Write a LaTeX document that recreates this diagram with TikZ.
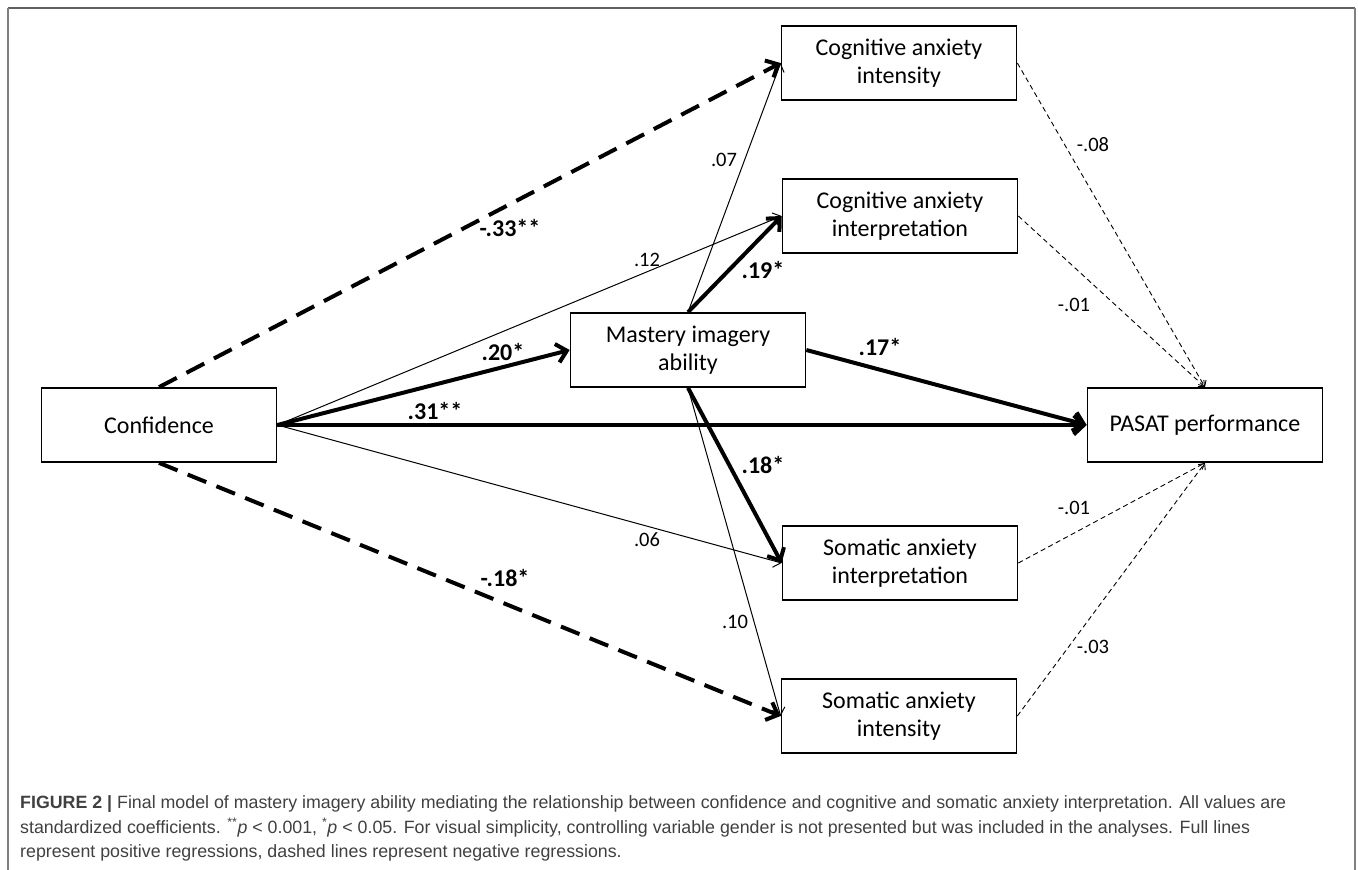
\documentclass[tikz,border=0pt]{standalone}
\usepackage{fontspec}
\setmainfont{Carlito}
\newfontfamily\capfont{Liberation Sans}
\usetikzlibrary{arrows.meta}
\definecolor{capgray}{gray}{0.25}
\begin{document}
\begin{tikzpicture}[x=1pt,y=-1pt,
  box/.style={draw,line width=1.7pt,minimum width=235pt,minimum height=74pt,inner sep=0pt,align=center,font=\fontsize{24}{28}\selectfont},
  posthick/.style={line width=4pt,-{Straight Barb[length=10pt,width=19pt,line width=4pt]}},
  posthin/.style={line width=1pt,-{Straight Barb[length=7pt,width=13pt,line width=1pt]}},
  negthick/.style={line width=4pt,dash pattern=on 20pt off 11pt,-{Straight Barb[length=10pt,width=19pt,line width=4pt]}},
  negthin/.style={line width=0.9pt,dash pattern=on 5pt off 3.5pt,-{Straight Barb[length=5pt,width=9pt,line width=0.9pt]}},
  lab/.style={font=\fontsize{20.5}{22}\selectfont,inner sep=0pt},
  blab/.style={font=\fontsize{24}{26}\selectfont\bfseries,inner sep=0pt},
  frame/.style={line width=1.5pt}]
\useasboundingbox (0,0) rectangle (1358,870);
% frame
\coordinate (ftl) at (8,8);
\coordinate (ftr) at (1355,8);
\coordinate (fbl) at (8,872);
\coordinate (fbr) at (1355,872);
\draw[frame,gray!75!black] (ftl) -- (ftr);
\draw[frame,gray] (ftl) -- (fbl);
\draw[frame,gray] (ftr) -- (fbr);
% nodes
\node[box] (conf) at (159,425) {Confidence};
\node[box] (mast) at (688,350) {Mastery imagery\\ability};
\node[box] (pasat) at (1205,425) {PASAT performance};
\node[box] (cint) at (899,63) {Cognitive anxiety\\intensity};
\node[box] (cinterp) at (900,216) {Cognitive anxiety\\interpretation};
\node[box] (sinterp) at (900,563) {Somatic anxiety\\interpretation};
\node[box] (sint) at (899,716) {Somatic anxiety\\intensity};
% connectors
\draw[negthick] (conf.north) -- (cint.west);
\draw[negthick] (conf.south) -- (sint.west);
\draw[posthick] (conf.east) -- (mast.west);
\draw[posthin] (conf.east) -- (cinterp.west);
\draw[posthick] (conf.east) -- (pasat.west);
\draw[posthin] (conf.east) -- (sinterp.west);
\draw[posthin] (mast.north) -- (cint.west);
\draw[posthick] (mast.north) -- (cinterp.west);
\draw[posthick] (mast.east) -- (pasat.west);
\draw[posthick] (mast.south) -- (sinterp.west);
\draw[posthin] (mast.south) -- (sint.west);
\draw[negthin] (cint.east) -- (pasat.north);
\draw[negthin] (cinterp.east) -- (pasat.north);
\draw[negthin] (sinterp.east) -- (pasat.south);
\draw[negthin] (sint.east) -- (pasat.south);
% labels
\node[blab] (l1) at (510,228) {-.33**};
\node[lab] (l2) at (647,260) {.12};
\node[lab] (l3) at (724,160) {.07};
\node[blab] (l4) at (763,270) {.19*};
\node[blab] (l5) at (503,352) {.20*};
\node[blab] (l6) at (435,411) {.31**};
\node[blab] (l7) at (880,347) {.17*};
\node[blab] (l8) at (763,465) {.18*};
\node[lab] (l9) at (647,540) {.06};
\node[blab] (l10) at (505,578) {-.18*};
\node[lab] (l11) at (735,622) {.10};
\node[lab] (l12) at (1093,145) {-.08};
\node[lab] (l13) at (1074,305) {-.01};
\node[lab] (l14) at (1074,508) {-.01};
\node[lab] (l15) at (1093,647) {-.03};
% caption
\begin{scope}[every node/.style={anchor=base west,inner sep=0pt,text=capgray,font=\capfont\fontsize{17.8}{20}\selectfont}]
\node (c1) at (20,808) {\textbf{FIGURE 2 |} Final model of mastery imagery ability mediating the relationship between confidence and cognitive and somatic anxiety interpretation. All values are};
\node (c2) at (20,833) {standardized coefficients. \textsuperscript{**}\textit{p} < 0.001, \textsuperscript{*}\textit{p} < 0.05. For visual simplicity, controlling variable gender is not presented but was included in the analyses. Full lines};
\node (c3) at (20,857) {represent positive regressions, dashed lines represent negative regressions.};
\end{scope}
\end{tikzpicture}
\end{document}
